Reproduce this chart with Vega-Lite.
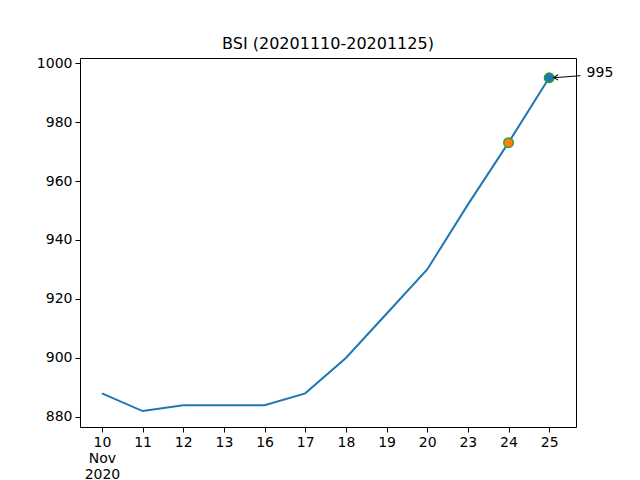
{
  "$schema": "https://vega.github.io/schema/vega-lite/v6.json",
  "width": 496,
  "height": 369,
  "autosize": "none",
  "padding": {"left": 80, "top": 58, "right": 64, "bottom": 53},
  "background": "white",
  "title": {"text": "BSI (20201110-20201125)", "font": "DejaVu Sans", "fontSize": 16, "fontWeight": "normal", "color": "black", "offset": 4},
  "config": {
    "view": {"stroke": "black", "strokeWidth": 1},
    "axis": {"grid": false, "domain": false, "tickColor": "black", "tickSize": 5, "labelColor": "black", "labelFont": "DejaVu Sans", "labelFontSize": 14, "labelPadding": 3, "title": null}
  },
  "datasets": {
    "bsi": [
      {"i": 0, "day": "10", "bsi": 888},
      {"i": 1, "day": "11", "bsi": 882},
      {"i": 2, "day": "12", "bsi": 884},
      {"i": 3, "day": "13", "bsi": 884},
      {"i": 4, "day": "16", "bsi": 884},
      {"i": 5, "day": "17", "bsi": 888},
      {"i": 6, "day": "18", "bsi": 900},
      {"i": 7, "day": "19", "bsi": 915},
      {"i": 8, "day": "20", "bsi": 930},
      {"i": 9, "day": "23", "bsi": 952},
      {"i": 10, "day": "24", "bsi": 973},
      {"i": 11, "day": "25", "bsi": 995}
    ],
    "marks": [
      {"i": 10, "bsi": 973, "fill": "#ff7f0e"},
      {"i": 11, "bsi": 995, "fill": "#1f77b4"}
    ],
    "note": [
      {"x": 11.77, "y": 995.7, "x2": 11.11, "y2": 995.0, "tx": 11.92, "ty": 996.5, "label": "995"}
    ]
  },
  "layer": [
    {
      "data": {"name": "bsi"},
      "mark": {"type": "line", "color": "#1f77b4", "strokeWidth": 2},
      "encoding": {
        "x": {"field": "i", "type": "quantitative", "scale": {"domain": [-0.54, 11.66], "nice": false, "zero": false},
              "axis": {"values": [0,1,2,3,4,5,6,7,8,9,10,11], "labelExpr": "datum.value == 0 ? ['10','Nov','2020'] : ['10','11','12','13','16','17','18','19','20','23','24','25'][datum.value]", "labelBaseline": "top", "labelLineHeight": 16}},
        "y": {"field": "bsi", "type": "quantitative", "scale": {"domain": [876.6, 1001.7], "nice": false, "zero": false},
              "axis": {"values": [880, 900, 920, 940, 960, 980, 1000], "format": "d"}}
      }
    },
    {
      "data": {"name": "marks"},
      "mark": {"type": "point", "filled": true, "size": 90, "stroke": "#2ca02c", "strokeWidth": 1.5, "opacity": 1},
      "encoding": {
        "x": {"field": "i", "type": "quantitative"},
        "y": {"field": "bsi", "type": "quantitative"},
        "fill": {"field": "fill", "type": "nominal", "scale": null}
      }
    },
    {
      "data": {"name": "note"},
      "mark": {"type": "rule", "color": "black", "strokeWidth": 1},
      "encoding": {
        "x": {"field": "x", "type": "quantitative"},
        "y": {"field": "y", "type": "quantitative"},
        "x2": {"field": "x2"},
        "y2": {"field": "y2"}
      }
    },
    {
      "data": {"name": "note"},
      "mark": {"type": "point", "shape": "M1,-0.6L0,0L1,0.6", "size": 80, "filled": false, "stroke": "black", "strokeWidth": 1, "angle": -4, "opacity": 1},
      "encoding": {
        "x": {"field": "x2", "type": "quantitative"},
        "y": {"field": "y2", "type": "quantitative"}
      }
    },
    {
      "data": {"name": "note"},
      "mark": {"type": "text", "align": "left", "baseline": "middle", "font": "DejaVu Sans", "fontSize": 14, "color": "black"},
      "encoding": {
        "x": {"field": "tx", "type": "quantitative"},
        "y": {"field": "ty", "type": "quantitative"},
        "text": {"field": "label"}
      }
    }
  ]
}
